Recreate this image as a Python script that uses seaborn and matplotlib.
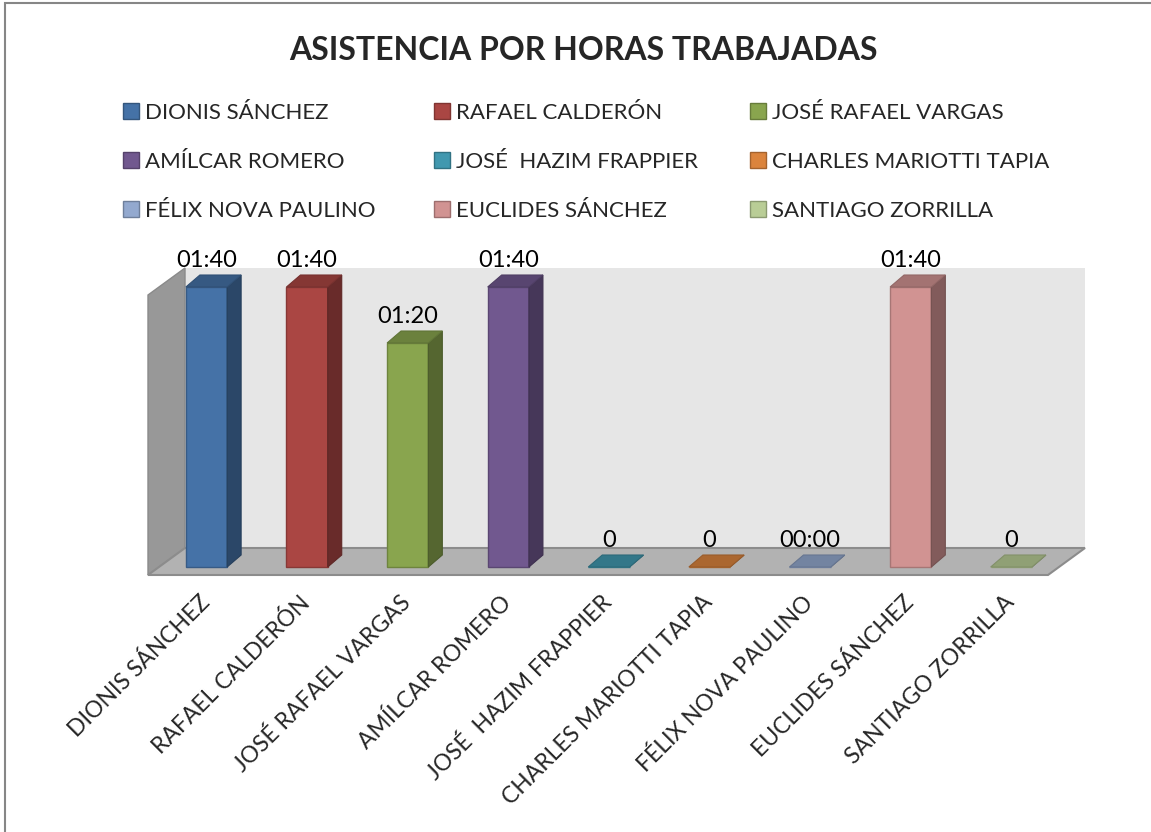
import matplotlib
matplotlib.use("Agg")

import pandas as pd
import seaborn as sns
from matplotlib import pyplot as plt
from matplotlib import colors as mcolors
from matplotlib import transforms as mtrans
from matplotlib.patches import Polygon, Patch, Rectangle

# data (minutes worked)
nombres = ["DIONIS SÁNCHEZ", "RAFAEL CALDERÓN", "JOSÉ RAFAEL VARGAS",
           "AMÍLCAR ROMERO", "JOSÉ  HAZIM FRAPPIER", "CHARLES MARIOTTI TAPIA",
           "FÉLIX NOVA PAULINO", "EUCLIDES SÁNCHEZ", "SANTIAGO ZORRILLA"]
minutos = [100, 100, 80, 100, 0, 0, 0, 100, 0]
etiquetas = ["01:40", "01:40", "01:20", "01:40", "0", "0", "00:00", "01:40", "0"]
colores = ["#4572A7", "#AA4643", "#89A54E", "#71588F", "#4198AF",
           "#DB843D", "#93A9CF", "#D19392", "#B9CD96"]


def shade(c, f):
    r, g, b = mcolors.to_rgb(c)
    return (r * f, g * f, b * f)


sns.set_theme(style="white")
plt.rcParams['font.family'] = ['Lato', 'DejaVu Sans']

W, H = 1151, 832
fig = plt.figure(figsize=(W / 100, H / 100), dpi=100)

# plot area in pixels (left, right, top, bottom)
L, R, T, B = 148, 1085, 268, 575
ax = fig.add_axes([L / W, (H - B) / H, (R - L) / W, (B - T) / H])

df = pd.DataFrame({"nombre": nombres, "minutos": minutos})
sns.barplot(data=df, x="nombre", y="minutos", hue="nombre", palette=colores,
            width=0.41, saturation=1, legend=False, ax=ax, zorder=3,
            linewidth=0)
bars = list(ax.patches)

# scale: 100.6 px per category, 2.8 px per minute
sx, sy = 100.6, 2.8
x0 = -(206.5 - L) / sx
x1 = x0 + (R - L) / sx
y0 = -(B - 567) / sy
y1 = (567 - T) / sy
ax.set_xlim(x0, x1)
ax.set_ylim(y0, y1)

# 3d box: walls and floor
DX, DY = 37 / sx, 27 / sy
ax.add_patch(Polygon([(x0 + DX, y0 + DY), (x1, y0 + DY), (x1, y1), (x0 + DX, y1)],
                     facecolor="#E6E6E6", edgecolor="none", zorder=0.5))
ax.add_patch(Polygon([(x0, y0), (x0, y1 - DY), (x0 + DX, y1), (x0 + DX, y0 + DY)],
                     facecolor="#989898", edgecolor="#8A8A8A", lw=1, zorder=0.6,
                     clip_on=False))
ax.add_patch(Polygon([(x0, y0), (x1 - DX, y0), (x1, y0 + DY), (x0 + DX, y0 + DY)],
                     facecolor="#B2B2B2", edgecolor="#8C8C8C", lw=1.5, zorder=0.7,
                     clip_on=False))

# depth of each bar
bx, by = 14 / sx, 12 / sy
for p, lab in zip(bars, etiquetas):
    x, w, h = p.get_x(), p.get_width(), p.get_height()
    c = p.get_facecolor()
    p.set_edgecolor(shade(c, 0.8))
    p.set_linewidth(1)
    ax.add_patch(Polygon([(x + w, 0), (x + w + bx, by), (x + w + bx, h + by), (x + w, h)],
                         facecolor=shade(c, 0.62), edgecolor=shade(c, 0.55), lw=0.8, zorder=3))
    ax.add_patch(Polygon([(x, h), (x + w, h), (x + w + bx, h + by), (x + bx, h + by)],
                         facecolor=shade(c, 0.78), edgecolor=shade(c, 0.7), lw=0.8, zorder=3))
    ax.annotate(lab, xy=(x + w / 2, h + by), xytext=(0, 3), textcoords="offset points",
                ha="center", va="bottom", fontsize=17, color="black", zorder=5,
                annotation_clip=False)

ax.set_xlabel("")
ax.set_ylabel("")
ax.set_yticks([])
ax.set_xticks(range(len(nombres)))
ax.set_xticklabels(nombres, rotation=45, ha="right", rotation_mode="anchor", fontsize=16.5)
ax.tick_params(axis="x", length=0, pad=12)
shift = mtrans.ScaledTranslation(-8 / 100, 0, fig.dpi_scale_trans)
for t in ax.get_xticklabels():
    t.set_transform(t.get_transform() + shift)
ax.patch.set_alpha(0)
for s in ax.spines.values():
    s.set_visible(False)

fig.text(583 / W, 1 - 50 / H, "ASISTENCIA POR HORAS TRABAJADAS",
         ha="center", va="center", fontsize=23, fontweight="bold")

# legend: three columns filled row by row
handles = [Patch(facecolor=c, edgecolor=shade(c, 0.75), label=n)
           for n, c in zip(nombres, colores)]
for col, xl in enumerate([123, 434, 750]):
    fig.legend(handles=handles[col::3], loc="upper left",
               bbox_to_anchor=(xl / W, 1 - 103 / H), frameon=False,
               fontsize=16, borderpad=0, borderaxespad=0, labelspacing=1.3,
               handlelength=0.7, handleheight=0.7, handletextpad=0.3)

fig.patches.append(Rectangle((5 / W, -0.05), 1.2, 1.05 - 3 / H, transform=fig.transFigure,
                             fill=False, edgecolor="#868686", lw=1.5))

fig.savefig("out.png", dpi=100)
